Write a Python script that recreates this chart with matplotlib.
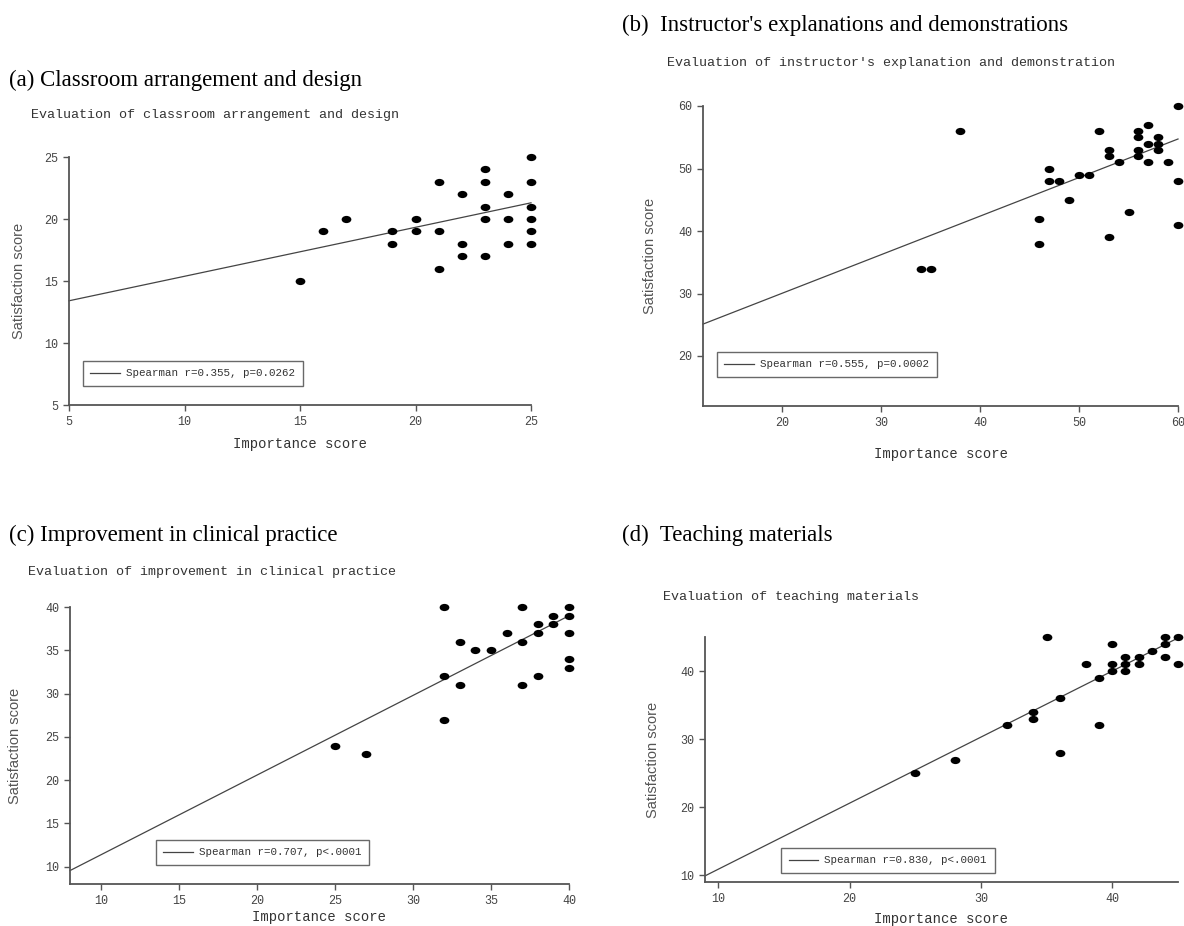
import numpy as np
import matplotlib.pyplot as plt
from matplotlib.markers import MarkerStyle
from matplotlib.transforms import Affine2D

W, H = 1184, 926

# (a) classroom arrangement and design
a_imp = [15, 16, 17, 19, 19, 20, 20, 21, 21, 21, 22, 22, 22, 23, 23, 23, 23, 23,
         24, 24, 24, 25, 25, 25, 25, 25, 25]
a_sat = [15, 19, 20, 19, 18, 20, 19, 23, 19, 16, 22, 18, 17, 24, 23, 21, 20, 17,
         22, 20, 18, 25, 23, 21, 20, 19, 18]
a_fit = (11.43, 0.395)   # intercept, slope of the drawn line
a_stat = "Spearman r=0.355, p=0.0262"

# (b) instructor's explanations and demonstrations
b_imp = [34, 35, 38, 46, 46, 47, 47, 48, 49, 50, 51, 52, 53, 53, 53, 54, 55, 56, 56,
         56, 56, 57, 57, 57, 58, 58, 58, 59, 60, 60, 60]
b_sat = [34, 34, 56, 42, 38, 50, 48, 48, 45, 49, 49, 56, 53, 52, 39, 51, 43, 56, 55,
         53, 52, 57, 54, 51, 55, 54, 53, 51, 60, 48, 41]
b_fit = (17.7, 0.617)
b_stat = "Spearman r=0.555, p=0.0002"

# (c) improvement in clinical practice
c_imp = [25, 27, 32, 32, 32, 33, 33, 34, 35, 36, 37, 37, 37, 38, 38, 38, 39, 39,
         40, 40, 40, 40, 40]
c_sat = [24, 23, 40, 32, 27, 36, 31, 35, 35, 37, 40, 36, 31, 38, 37, 32, 39, 38,
         40, 39, 37, 34, 33]
c_fit = (2.19, 0.920)
c_stat = "Spearman r=0.707, p<.0001"

# (d) teaching materials
d_imp = [25, 28, 32, 34, 34, 35, 36, 36, 38, 39, 39, 40, 40, 40, 41, 41, 41, 42, 42,
         43, 44, 44, 44, 45, 45]
d_sat = [25, 27, 32, 34, 33, 45, 36, 28, 41, 39, 32, 44, 41, 40, 42, 41, 40, 42, 41,
         43, 45, 44, 42, 45, 41]
d_fit = (1.16, 0.971)
d_stat = "Spearman r=0.830, p<.0001"

panels = [
    dict(imp=a_imp, sat=a_sat, fit=a_fit, stat=a_stat,
         head="(a) Classroom arrangement and design", head_xy=(9, 80),
         sub="Evaluation of classroom arrangement and design", sub_xy=(31, 115),
         box=(69, 157, 531, 405), xlim=(5, 25), ylim=(5, 25),
         xt=[5, 10, 15, 20, 25], yt=[5, 10, 15, 20, 25],
         leg=(0.030, 0.077), ylab_dx=43, xlab_dy=32),
    dict(imp=b_imp, sat=b_sat, fit=b_fit, stat=b_stat,
         head="(b)  Instructor's explanations and demonstrations", head_xy=(622, 25),
         sub="Evaluation of instructor's explanation and demonstration", sub_xy=(667, 63),
         box=(703, 106, 1178, 406), xlim=(12, 60), ylim=(12, 60),
         xt=[20, 30, 40, 50, 60], yt=[20, 30, 40, 50, 60],
         leg=(0.029, 0.097), ylab_dx=46, xlab_dy=41),
    dict(imp=c_imp, sat=c_sat, fit=c_fit, stat=c_stat,
         head="(c) Improvement in clinical practice", head_xy=(9, 535),
         sub="Evaluation of improvement in clinical practice", sub_xy=(28, 572),
         box=(70, 607, 569, 884), xlim=(8, 40), ylim=(8, 40),
         xt=[10, 15, 20, 25, 30, 35, 40], yt=[10, 15, 20, 25, 30, 35, 40],
         leg=(0.172, 0.069), ylab_dx=48, xlab_dy=26),
    dict(imp=d_imp, sat=d_sat, fit=d_fit, stat=d_stat,
         head="(d)  Teaching materials", head_xy=(622, 535),
         sub="Evaluation of teaching materials", sub_xy=(663, 597),
         box=(705, 637, 1178, 882), xlim=(9, 45), ylim=(9, 45),
         xt=[10, 20, 30, 40], yt=[10, 20, 30, 40],
         leg=(0.161, 0.037), ylab_dx=45, xlab_dy=30),
]

MONO = ["Liberation Mono", "DejaVu Sans Mono"]
NARROW = ["Liberation Sans Narrow", "Liberation Sans", "DejaVu Sans"]
SERIF = ["Liberation Serif", "DejaVu Serif"]
GREY = "#555555"

dot = MarkerStyle("o", transform=Affine2D().scale(1.35, 1.0))

fig = plt.figure(figsize=(W / 100, H / 100), dpi=100)

for p in panels:
    l, t, r, b = p["box"]
    ax = fig.add_axes([l / W, 1 - b / H, (r - l) / W, (b - t) / H])

    x0, x1 = p["xlim"]
    xs = np.array([x0, x1])
    ax.plot(xs, p["fit"][0] + p["fit"][1] * xs, color="#444444", lw=0.9,
            label=p["stat"], clip_on=False)
    ax.scatter(p["imp"], p["sat"], marker=dot, s=27, color="black",
               linewidths=0, clip_on=False, zorder=3)

    ax.set_xlim(*p["xlim"])
    ax.set_ylim(*p["ylim"])
    ax.set_xticks(p["xt"])
    ax.set_yticks(p["yt"])
    for s in ["top", "right"]:
        ax.spines[s].set_visible(False)
    for s in ["left", "bottom"]:
        ax.spines[s].set_color(GREY)
        ax.spines[s].set_linewidth(1.3)
    ax.tick_params(length=4, width=1, color=GREY, labelcolor="#444444",
                   labelsize=8.5, pad=4)
    for lab in ax.get_xticklabels() + ax.get_yticklabels():
        lab.set_family(MONO)

    ax.set_xlabel("Importance score", family=MONO, fontsize=10, color="#333333")
    ax.set_ylabel("Satisfaction score", family=NARROW, fontsize=10.5, color="#555555")
    ax.xaxis.set_label_coords(0.5, -p["xlab_dy"] / (b - t))
    ax.yaxis.set_label_coords(-p["ylab_dx"] / (r - l), 0.5)

    leg = ax.legend(loc="lower left", bbox_to_anchor=p["leg"], frameon=True,
                    fancybox=False, prop={"family": MONO, "size": 7.8},
                    handlelength=2.7, handletextpad=0.6, borderpad=0.7,
                    borderaxespad=0)
    leg.get_frame().set_edgecolor("#444444")
    leg.get_frame().set_linewidth(1.0)
    for txt in leg.get_texts():
        txt.set_color("#333333")

    hx, hy = p["head_xy"]
    fig.text(hx / W, 1 - hy / H, p["head"], family=SERIF, fontsize=16.5,
             va="center", ha="left", color="black")
    sx, sy = p["sub_xy"]
    fig.text(sx / W, 1 - sy / H, p["sub"], family=MONO, fontsize=9.6,
             va="center", ha="left", color="#333333")

fig.savefig("out.png", dpi=100)
